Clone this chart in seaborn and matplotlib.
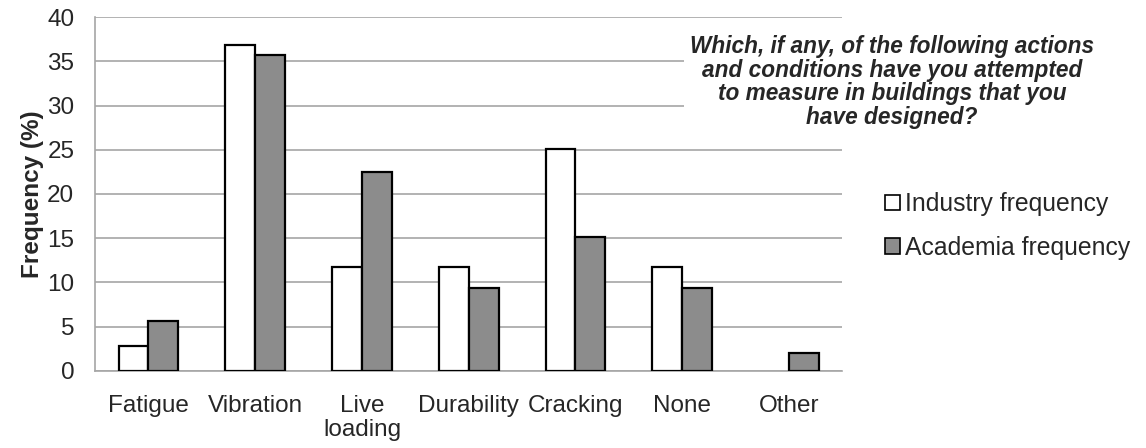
import pandas as pd
import numpy as np
import matplotlib
matplotlib.use("Agg")
import matplotlib.pyplot as plt
from matplotlib.patches import Patch
import seaborn as sns

categories = ["Fatigue", "Vibration", "Live\nloading", "Durability", "Cracking", "None", "Other"]
industry = [2.8, 36.8, 11.7, 11.7, 25.1, 11.7, 0.0]
academia = [5.7, 35.7, 22.5, 9.4, 15.1, 9.4, 2.0]
series = ["Industry frequency", "Academia frequency"]
colors = ["white", "#8c8c8c"]

df = pd.DataFrame({
    "category": categories * 2,
    "value": industry + academia,
    "series": [series[0]] * len(categories) + [series[1]] * len(categories),
})

sns.set_style("white")
plt.rcParams["font.family"] = ["Liberation Sans", "DejaVu Sans"]

fig = plt.figure(figsize=(11.46, 4.48), dpi=100)
ax = fig.add_axes([0.083, 0.172, 0.652, 0.79])

sns.barplot(data=df, x="category", y="value", hue="series", palette=colors,
            width=0.56, edgecolor="black", linewidth=1.6, ax=ax, legend=False,
            zorder=3)

# zero-height bars are not drawn in the original
for p in ax.patches:
    if p.get_height() == 0:
        p.set_visible(False)

ax.set_ylim(0, 40)
ax.set_xlim(-0.5, len(categories) - 0.5)
ax.set_yticks(range(0, 41, 5))
ax.yaxis.grid(True, color="#a6a6a6", linewidth=1.2, zorder=0)
ax.set_axisbelow(True)
for s in ["top", "right"]:
    ax.spines[s].set_visible(False)
ax.spines["left"].set_color("#a6a6a6")
ax.spines["bottom"].set_color("#a6a6a6")
ax.spines["left"].set_linewidth(1.2)
ax.spines["bottom"].set_linewidth(1.2)

ax.tick_params(axis="y", length=5, color="#a6a6a6", width=1.2, labelsize=17.5, pad=10)
ax.tick_params(axis="x", which="major", length=0, labelsize=17.5, pad=17)
ax.set_xticks(np.arange(-0.5, len(categories), 1), minor=True)
ax.tick_params(axis="x", which="minor", length=6, color="#a6a6a6", width=1.2)
for lab in ax.get_xticklabels():
    lab.set_linespacing(1.15)

ax.set_xlabel("")
ax.set_ylabel("Frequency (%)", fontsize=17.5, fontweight="bold", labelpad=2)

fig.text(892 / 1146, 1 - 82 / 448,
         "Which, if any, of the following actions\nand conditions have you attempted\n"
         "to measure in buildings that you\nhave designed?",
         ha="center", va="center", fontsize=16.3, fontweight="bold", fontstyle="italic",
         linespacing=1.05,
         bbox=dict(facecolor="white", edgecolor="none", pad=4))

handles = [Patch(facecolor=c, edgecolor="black", linewidth=1.2) for c in colors]
fig.legend(handles, series, loc="center left", bbox_to_anchor=(885 / 1146, 1 - 226 / 448),
           frameon=False, fontsize=17.8, handlelength=0.6, handleheight=0.6,
           handletextpad=0.2, labelspacing=0.8, borderaxespad=0, borderpad=0)

fig.savefig("out.png", dpi=100)
